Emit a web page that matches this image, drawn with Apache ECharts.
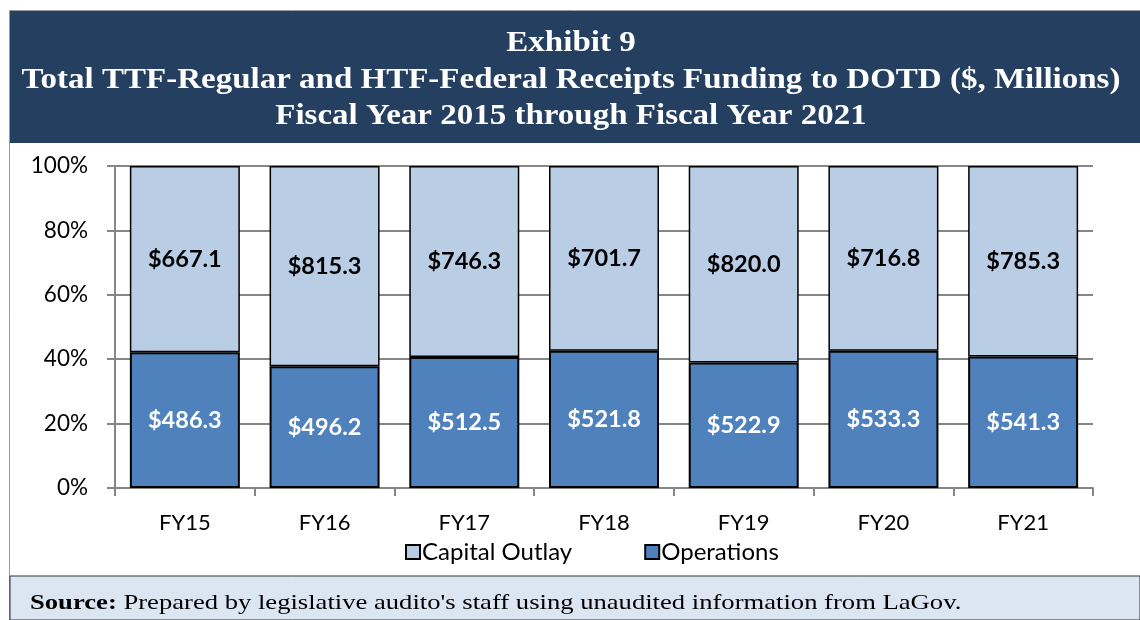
<!DOCTYPE html>
<html>
<head>
<meta charset="utf-8">
<script src="https://cdn.jsdelivr.net/npm/echarts@6/dist/echarts.min.js"></script>
<style>
html,body{margin:0;padding:0;background:#fff;}
#chart{width:1140px;height:620px;}
</style>
</head>
<body>
<div id="chart"></div>
<script>
const categories = ['FY15', 'FY16', 'FY17', 'FY18', 'FY19', 'FY20', 'FY21'];
const operations = [486.3, 496.2, 512.5, 521.8, 522.9, 533.3, 541.3];
const capitalOutlay = [667.1, 815.3, 746.3, 701.7, 820.0, 716.8, 785.3];
const titleLines = [
  'Exhibit 9',
  'Total TTF-Regular and HTF-Federal Receipts Funding to DOTD ($, Millions)',
  'Fiscal Year 2015 through Fiscal Year 2021'
];
const sourceLabel = 'Source:';
const sourceText = ' Prepared by legislative audito\'s staff using unaudited information from LaGov.';

const totals = operations.map((v, i) => v + capitalOutlay[i]);
const opsPct = operations.map((v, i) => v / totals[i] * 100);
const capPct = capitalOutlay.map((v, i) => v / totals[i] * 100);

const chart = echarts.init(document.getElementById('chart'), null, {renderer: 'canvas'});
const sans = 'Lato, "Open Sans", sans-serif';
const serif = '"Liberation Serif", "Times New Roman", serif';

const titleY = [43, 80, 116];
const titleGraphics = titleLines.map((t, i) => ({
  type: 'text', x: 571, y: titleY[i], scaleX: 1.10, z: 10,
  style: {text: t, textAlign: 'center', textVerticalAlign: 'middle',
    fill: '#ffffff', font: 'bold 30px ' + serif}
}));

chart.setOption({
  animation: false,
  backgroundColor: '#ffffff',
  graphic: [
    {type: 'rect', z: -10, shape: {x: 9.5, y: 10.5, width: 1140, height: 620}, style: {fill: '#ffffff', stroke: '#9a9a9a', lineWidth: 1}},
    {type: 'rect', z: -5, shape: {x: 10, y: 11, width: 1130, height: 132}, style: {fill: '#253F60'}},
    {type: 'rect', z: -5, shape: {x: 10, y: 576, width: 1130, height: 44}, style: {fill: '#DCE6F2', stroke: '#333', lineWidth: 1}},
    ...titleGraphics,
    {type: 'text', x: 30, y: 603, scaleX: 1.21, z: 10, style: {
      text: '{b|' + sourceLabel + '}{n|' + sourceText + '}',
      textVerticalAlign: 'middle',
      rich: {
        b: {fontFamily: serif, fontWeight: 'bold', fontSize: 22, fill: '#000'},
        n: {fontFamily: serif, fontSize: 22, fill: '#000'}
      }
    }}
  ],
  legend: {
    data: ['Capital Outlay', 'Operations'],
    left: 400, top: 535,
    itemWidth: 14, itemHeight: 14, itemGap: 72,
    icon: 'rect',
    textStyle: {fontFamily: sans, fontSize: 24, color: '#000', padding: [0, 0, 0, -3]}
  },
  grid: {left: 115, right: 47, top: 166, bottom: 132},
  xAxis: {
    type: 'category', data: categories,
    axisLine: {lineStyle: {color: '#868686', width: 2}},
    axisTick: {show: true, length: 8, lineStyle: {color: '#868686', width: 2}},
    axisLabel: {fontFamily: sans, fontSize: 22, color: '#000', margin: 24}
  },
  yAxis: {
    type: 'value', min: 0, max: 100, interval: 20,
    axisLine: {show: true, lineStyle: {color: '#868686', width: 2}},
    axisTick: {show: true, length: 8, lineStyle: {color: '#868686', width: 2}},
    axisLabel: {fontFamily: sans, fontSize: 22.5, color: '#000', margin: 27, formatter: '{value}%'},
    splitLine: {lineStyle: {color: '#868686', width: 2}}
  },
  series: [
    {
      name: 'Operations', type: 'bar', stack: 'total', barWidth: 110,
      data: opsPct,
      itemStyle: {color: '#4F81BD', borderColor: '#000', borderWidth: 2},
      label: {show: true, position: 'inside', color: '#fff', fontFamily: sans, fontWeight: 'bold', fontSize: 23.5,
        formatter: p => '$' + operations[p.dataIndex].toFixed(1)}
    },
    {
      name: 'Capital Outlay', type: 'bar', stack: 'total', barWidth: 110,
      data: capPct,
      itemStyle: {color: '#B9CDE5', borderColor: '#000', borderWidth: 1.5},
      label: {show: true, position: 'inside', color: '#000', fontFamily: sans, fontWeight: 'bold', fontSize: 23.5,
        formatter: p => '$' + capitalOutlay[p.dataIndex].toFixed(1)}
    }
  ]
});
</script>
</body>
</html>
